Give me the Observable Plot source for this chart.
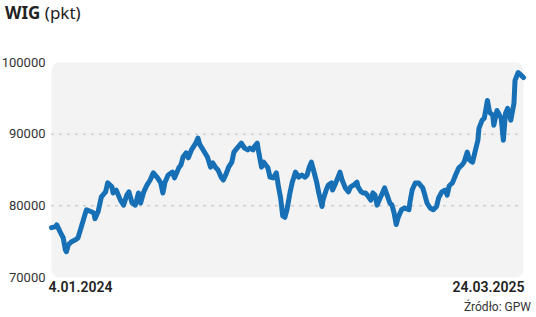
<!DOCTYPE html>
<html><head><meta charset="utf-8">
<script src="https://cdn.jsdelivr.net/npm/d3@7"></script>
<script src="https://cdn.jsdelivr.net/npm/@observablehq/plot@0.6"></script>
<style>
body{margin:0;background:#fff;font-family:Roboto,"Liberation Sans",sans-serif;position:relative;width:536px;height:317px;overflow:hidden;}
#title{height:30px;padding-left:5px;font-size:17px;line-height:26px;color:#222;font-family:"Noto Sans",sans-serif;}
#title b{font-weight:700}
#chart{position:absolute;left:0;top:30px;}
#src{position:absolute;right:5px;top:300px;font-size:12px;color:#333;}
</style></head><body>
<div id="title"><b>WIG</b> (pkt)</div>
<div id="chart"></div>
<div id="src">Źródło: GPW</div>
<script>
const dates = [
"2024-01-04","2024-01-08","2024-01-09","2024-01-12","2024-01-15","2024-01-17","2024-01-18","2024-01-20","2024-01-23","2024-01-27","2024-01-29",
"2024-02-01","2024-02-05","2024-02-06","2024-02-10","2024-02-13","2024-02-14","2024-02-17","2024-02-20","2024-02-24","2024-02-26",
"2024-03-01","2024-03-02","2024-03-05","2024-03-09","2024-03-12","2024-03-15","2024-03-17","2024-03-20","2024-03-23","2024-03-26","2024-03-28","2024-03-31",
"2024-04-03","2024-04-06","2024-04-09","2024-04-13","2024-04-16","2024-04-18","2024-04-20","2024-04-23","2024-04-27","2024-04-29",
"2024-05-03","2024-05-05","2024-05-07","2024-05-10","2024-05-12","2024-05-15","2024-05-19","2024-05-21","2024-05-23","2024-05-26","2024-05-30",
"2024-06-02","2024-06-04","2024-06-07","2024-06-09","2024-06-12","2024-06-14","2024-06-17","2024-06-19","2024-06-22","2024-06-24","2024-06-27",
"2024-07-01","2024-07-04","2024-07-07","2024-07-09","2024-07-12","2024-07-13","2024-07-16","2024-07-17","2024-07-20","2024-07-22","2024-07-26","2024-07-28","2024-07-31",
"2024-08-03","2024-08-05","2024-08-07","2024-08-09","2024-08-11","2024-08-13","2024-08-16","2024-08-18","2024-08-21","2024-08-24","2024-08-27","2024-08-30",
"2024-09-01","2024-09-03","2024-09-05","2024-09-07","2024-09-10","2024-09-12","2024-09-15","2024-09-16","2024-09-19","2024-09-21","2024-09-24","2024-09-25","2024-09-28",
"2024-10-01","2024-10-02","2024-10-04","2024-10-07","2024-10-10","2024-10-12","2024-10-15","2024-10-18","2024-10-19","2024-10-22","2024-10-24","2024-10-26","2024-10-29","2024-10-31",
"2024-11-02","2024-11-04","2024-11-06","2024-11-08","2024-11-11","2024-11-13","2024-11-16","2024-11-18","2024-11-20","2024-11-22","2024-11-24","2024-11-26","2024-11-29",
"2024-12-02","2024-12-06","2024-12-07","2024-12-09","2024-12-12","2024-12-15","2024-12-19","2024-12-21","2024-12-23","2024-12-26","2024-12-29",
"2025-01-01","2025-01-03","2025-01-06","2025-01-09","2025-01-11","2025-01-13","2025-01-16","2025-01-19","2025-01-22","2025-01-25","2025-01-27","2025-01-30",
"2025-02-01","2025-02-04","2025-02-06","2025-02-09","2025-02-10","2025-02-13","2025-02-15","2025-02-18","2025-02-20","2025-02-23","2025-02-24","2025-02-27","2025-02-28",
"2025-03-03","2025-03-05","2025-03-07","2025-03-09","2025-03-12","2025-03-15","2025-03-16","2025-03-19","2025-03-22","2025-03-24"
];
const values = [
76950,77100,77350,76400,75550,73900,73600,74600,75000,75300,75550,
77000,79000,79450,79200,79000,78200,79200,81250,81950,83200,
82650,81800,82200,80800,80100,81500,81950,80400,80100,81800,80400,81950,
82900,83600,84600,83900,83200,81800,83300,84300,84700,83900,
85300,85700,86800,87400,86700,87800,88750,89450,88500,87800,86800,
85400,86000,85300,85000,84000,83600,84600,85400,86100,87500,88050,
88750,88050,87800,88050,87800,88200,88750,87800,85400,86100,85300,84000,83900,
84600,82650,81100,78600,78400,79450,81950,83300,84700,84000,84300,84000,
84300,85400,86100,85000,83300,81800,79900,80800,82200,82900,83200,82200,83200,
84300,84700,83600,82500,81950,82650,82900,83300,82650,81950,81800,81800,81250,80800,
81800,81500,80100,80800,81800,82500,81250,80400,80100,79000,77400,78450,79450,
79700,79450,80550,82200,83200,83200,82500,81500,80400,79700,79450,
79900,81100,81950,82200,81500,82800,83200,84300,85300,85700,86100,87500,
86400,86100,87350,89150,90800,91950,92200,94700,93050,92650,91250,93300,93050,
92200,89150,92900,93600,91950,94300,97500,98600,98200,97900
];
const yTicks = [70000, 80000, 90000, 100000];
const gridTicks = [80000, 90000];
const xTickLabels = ["4.01.2024", "24.03.2025"];

const data = dates.map((d, i) => ({date: new Date(d), value: values[i]}));
const xFirst = data[0].date, xLast = data[data.length - 1].date;

const chart = Plot.plot({
  width: 536,
  height: 273,
  marginTop: 32,
  marginBottom: 26,
  marginLeft: 51,
  marginRight: 13,
  style: {fontFamily: "Roboto, 'Liberation Sans', sans-serif", fontSize: "13px", color: "#333", background: "transparent"},
  x: {type: "utc", domain: [xFirst, xLast]},
  y: {domain: [70000, 100000]},
  marks: [
    Plot.frame({fill: "#f3f3f3", rx: 8, stroke: null}),
    Plot.gridY(gridTicks, {stroke: "#bdbdbd", strokeOpacity: 1, strokeDasharray: "3,5"}),
    Plot.axisY({ticks: yTicks, tickSize: 0, tickPadding: 6, tickFormat: d => String(d), label: null, fontSize: 13, fill: "#333"}),
    Plot.axisX({ticks: [xFirst], tickSize: 0, tickPadding: 5, tickFormat: () => xTickLabels[0], textAnchor: "start", dx: -3, label: null, fontSize: 14, fontWeight: 600, fill: "#222"}),
    Plot.axisX({ticks: [xLast], tickSize: 0, tickPadding: 5, tickFormat: () => xTickLabels[1], textAnchor: "end", dx: 1, label: null, fontSize: 14, fontWeight: 600, fill: "#222"}),
    Plot.line(data, {x: "date", y: "value", stroke: "#1770b5", strokeWidth: 5, strokeLinejoin: "round", strokeLinecap: "round"})
  ]
});
document.getElementById("chart").appendChild(chart);
</script>
</body></html>
